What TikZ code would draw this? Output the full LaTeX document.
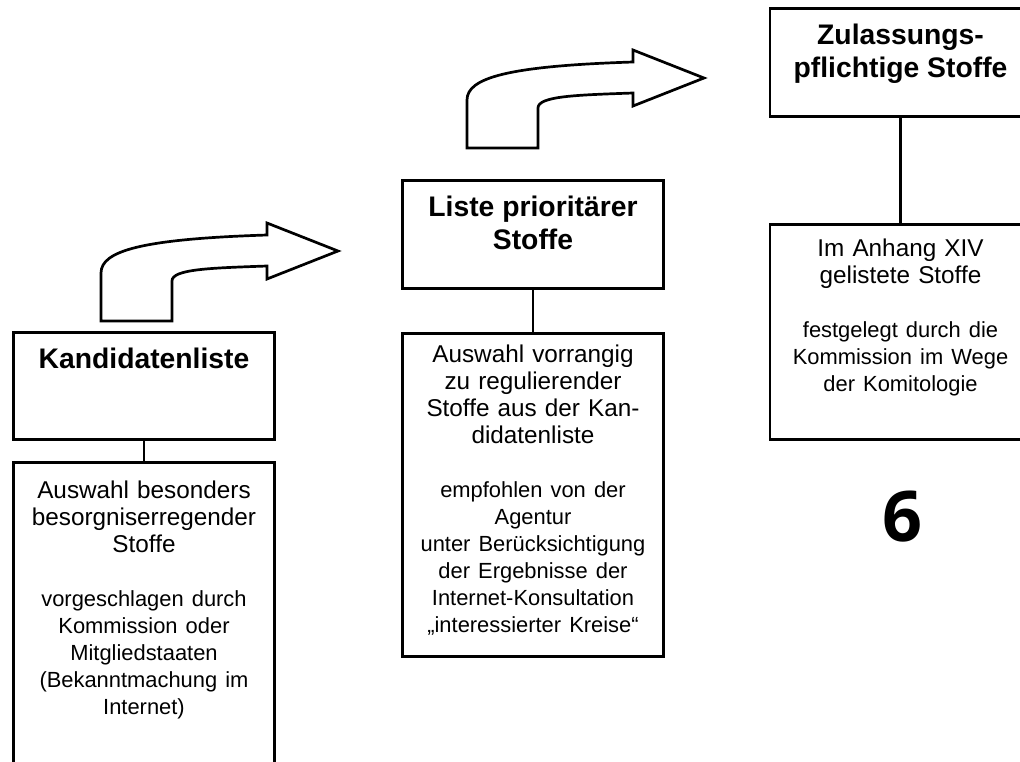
\documentclass[tikz,border=0pt]{standalone}
\usepackage{fontspec}
\setmainfont{Liberation Sans}
\newfontfamily\numfont{Open Sans}
\usetikzlibrary{positioning}
\newcommand{\kopf}{\fontsize{28.3}{32.5}\selectfont\bfseries}
\newcommand{\haupt}{\fontsize{24.3}{27}\selectfont}
\newcommand{\klein}{\fontsize{21.9}{27}\selectfont}
\begin{document}
\begin{tikzpicture}[x=1pt,y=-1pt,
  box/.style={draw,line width=2.7pt,minimum width=261pt,inner sep=0pt,anchor=north},
  titel/.style={font=\kopf,align=center,inner sep=0pt,outer sep=0pt},
  info/.style={font=\haupt,align=center,text width=258pt,inner sep=0pt,outer sep=0pt},
  link/.style={line width=2.2pt},
  bogen/.style={line width=2.7pt,line join=miter}]
\clip (0,0) rectangle (1020,761);
\node[box,minimum height=107pt] (kand) at (144,331) {};
\node[box,minimum height=360pt] (kandinfo) at (144,461) {};
\node[box,minimum height=108pt] (prio) at (533,179) {};
\node[box,minimum height=323pt] (prioinfo) at (533,332) {};
\node[box,minimum height=108pt] (zul) at (900.5,7) {};
\node[box,minimum height=215pt] (zulinfo) at (900.5,223) {};
\draw[link] (kand.south) -- (kandinfo.north);
\draw[link] (prio.south) -- (prioinfo.north);
\draw[link] (zul.south) -- (zulinfo.north);
\node[titel,below=17pt of kand.north] (kandtitel) {Kandidatenliste};
\node[titel,below=17pt of prio.north] (priotitel) {Liste prioritärer\\Stoffe};
\node[titel,below=17pt of zul.north] (zultitel) {Zulassungs-\\pflichtige Stoffe};
\node[info,below=20pt of kandinfo.north] (kandtext) {Auswahl besonders\\besorgniserregender\\Stoffe\\[27pt]{\klein vorgeschlagen durch\\Kommission oder\\Mitgliedstaaten\\(Bekanntmachung im\\Internet)}};
\node[info,below=13pt of prioinfo.north] (priotext) {Auswahl vorrangig\\zu regulierender\\Stoffe aus der Kan-\\didatenliste\\[27pt]{\klein empfohlen von der\\Agentur\\unter Berücksichtigung\\der Ergebnisse der\\Internet-Konsultation\\„interessierter Kreise“}};
\node[info,below=16pt of zulinfo.north] (zultext) {Im Anhang XIV\\gelistete Stoffe\\[27pt]{\klein festgelegt durch die\\Kommission im Wege\\der Komitologie}};
\foreach \p in {(101,321),(467,148)}
  \draw[bogen,shift={\p}] (0,0) -- (0,-48) .. controls (0,-70) and (40,-82) .. (166,-86) -- (166,-98) -- (237,-70) -- (166,-42) -- (166,-55) .. controls (110,-53) and (71,-52) .. (71,-40) -- (71,0) -- cycle;
\node[font=\numfont\bfseries\fontsize{70}{70}\selectfont,inner sep=0pt] (folie) at (902,517) {6};
\end{tikzpicture}
\end{document}
